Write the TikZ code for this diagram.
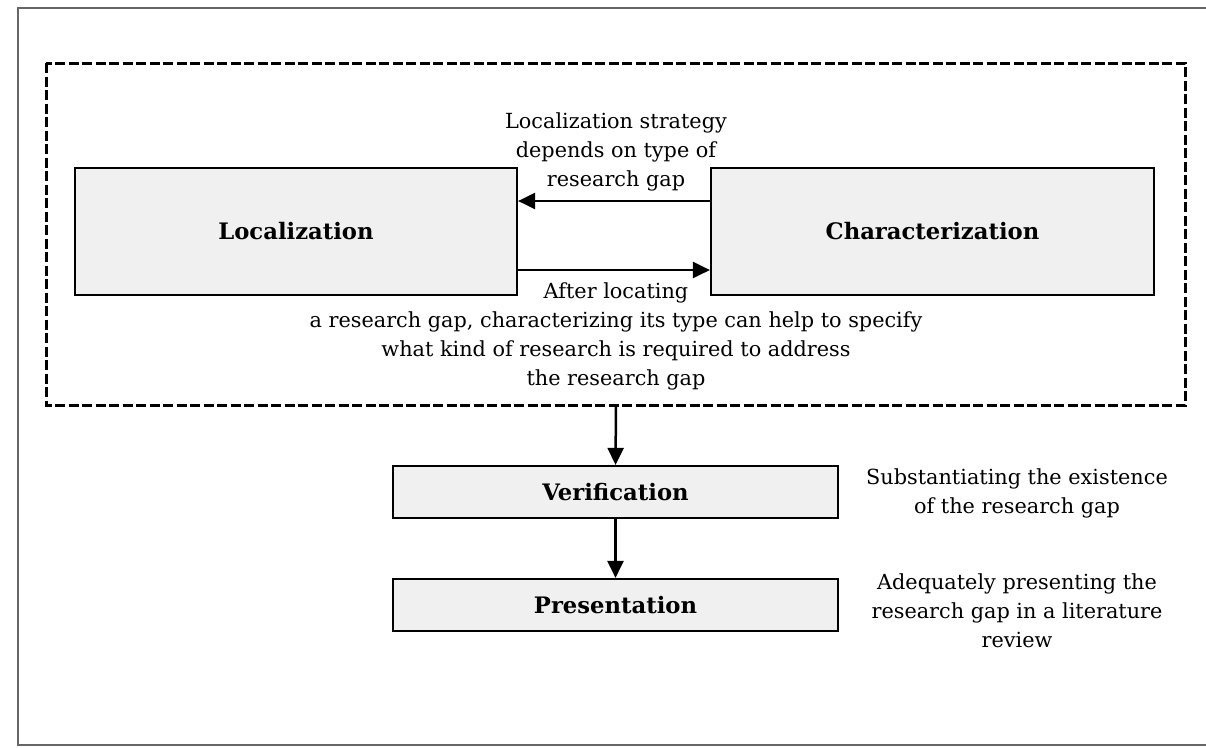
\documentclass[tikz,border=0pt]{standalone}
\usepackage{fontspec}
\setmainfont{DejaVu Serif}
\usetikzlibrary{arrows.meta}
\begin{document}
\begin{tikzpicture}[x=1pt,y=-1pt,
  box/.style={draw=black, line width=2.2pt, fill=black!6, inner sep=0pt},
  lbl/.style={font=\fontsize{22.7}{29}\selectfont\bfseries},
  txt/.style={font=\fontsize{20.8}{29}\selectfont, align=center, inner sep=0pt},
  arr/.style={-{Triangle[length=17pt,width=16pt]}, line width=2.5pt},
  frame/.style={draw=black!60, line width=2pt}
]
\useasboundingbox (0,0) rectangle (1206,747);
\fill[white] (0,0) rectangle (1206,747);
\draw[frame] (1206,8) -- (18,8) -- (18,745) -- (1206,745);
\draw[line width=3pt, dash pattern=on 10pt off 3.5pt] (46,63) rectangle (1185,405);
\node[box, minimum width=442pt, minimum height=127pt] (loc) at (296,231.5) {};
\node[lbl] at (loc.center) {Localization};
\node[box, minimum width=443pt, minimum height=127pt] (cha) at (932.5,231.5) {};
\node[lbl] at (cha.center) {Characterization};
\node[box, minimum width=445pt, minimum height=52pt] (ver) at (615.5,492) {};
\node[lbl] at (ver.center) {Verification};
\node[box, minimum width=445pt, minimum height=52pt] (pre) at (615.5,605) {};
\node[lbl] at (pre.center) {Presentation};
\coordinate (dbot) at (616,405);
\coordinate (c1) at (711,201);
\coordinate (c2) at (517,270);
\draw[arr] (cha.west |- c1) -- (loc.east |- c1);
\draw[arr] (loc.east |- c2) -- (cha.west |- c2);
\draw[arr] (dbot) -- (ver.north);
\draw[arr] (ver.south) -- (pre.north);
\node[txt] (t1) at (616,152) {Localization strategy\\depends on type of\\research gap};
\node[txt] (t2) at (616,336) {After locating\\a research gap, characterizing its type can help to specify\\what kind of research is required to address\\the research gap};
\node[txt] (t3) at (1017,493) {Substantiating the existence\\of the research gap};
\node[txt] (t4) at (1017,611) {Adequately presenting the\\research gap in a literature\\review};
\end{tikzpicture}
\end{document}
